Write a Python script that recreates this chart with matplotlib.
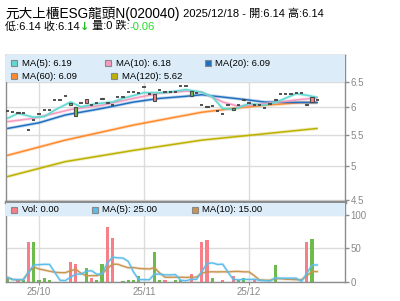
import matplotlib
matplotlib.use('Agg')
import matplotlib.pyplot as plt
import numpy as np
import pandas as pd
from matplotlib.patches import Rectangle
from matplotlib.lines import Line2D
from matplotlib.ticker import FixedLocator, NullLocator

FONTS = ['Liberation Sans', 'Noto Sans CJK TC', 'DejaVu Sans']
plt.rcParams['font.family'] = FONTS

# daily data, 60 trading days up to 2025/12/18
closes = [5.93, 5.91, 5.90, 5.89, 5.59, 5.77, 5.88, 5.96, 5.96, 6.14,
          6.14, 6.21, 6.05, 5.85, 6.09, 6.16, 6.04, 6.09, 6.17, 6.10,
          6.04, 6.19, 6.19, 6.29, 6.29, 6.27, 6.39, 6.26, 6.26, 6.33,
          6.29, 6.29, 6.29, 6.41, 6.41, 6.22, 6.27, 6.05, 6.00, 6.02,
          5.94, 5.88, 6.04, 5.96, 6.04, 6.16, 6.08, 6.04, 6.04, 5.98,
          6.06, 6.16, 6.25, 6.25, 6.25, 6.28, 6.28, 6.07, 6.20, 6.14]
opens = list(closes)
for i, o in {2: 5.92, 12: 6.08, 13: 6.00, 15: 6.09, 18: 6.15, 19: 6.08, 28: 6.12,
             35: 6.31, 38: 6.02, 43: 5.98, 45: 6.14, 51: 6.14, 57: 6.05, 58: 6.10}.items():
    opens[i] = o
volumes = [6, 0, 2, 3, 60, 60, 2, 5, 2, 0,
           0, 0, 30, 26, 0, 21, 5, 3, 27, 83,
           66, 0, 1, 2, 3, 8, 0, 0, 45, 3,
           2, 0, 2, 2, 0, 12, 0, 60, 63, 6,
           0, 2, 0, 8, 2, 5, 0, 2, 0, 0,
           0, 25, 0, 0, 0, 0, 0, 60, 65, 0]
vol_side = list("g-rgrgggg-" "--rr-grggr" "r-gggg--gg" "r-gg-r-rrg" "-r-rgg-r--" "-g-----rg-")

# price moving averages (day index, value)
ma5_x = [0, 2, 5, 7, 9, 12, 14, 17, 20, 22, 26, 30, 34, 37, 39, 41, 43, 46, 49, 51, 55, 57, 59]
ma5_y = [5.80, 5.89, 5.82, 5.83, 5.95, 6.10, 6.01, 6.07, 6.10, 6.17, 6.28, 6.28, 6.34, 6.29,
         6.20, 5.98, 5.96, 6.07, 6.04, 6.09, 6.26, 6.23, 6.19]
ma10_x = [0, 5, 9, 12, 18, 24, 29, 34, 37, 41, 44, 49, 56, 59]
ma10_y = [5.74, 5.80, 5.89, 5.96, 6.04, 6.17, 6.27, 6.31, 6.29, 6.10, 6.02, 6.07, 6.15, 6.18]
ma20_x = [0, 6, 11, 18, 24, 29, 34, 37, 45, 49, 59]
ma20_y = [5.62, 5.72, 5.86, 5.98, 6.10, 6.17, 6.21, 6.24, 6.15, 6.10, 6.09]
ma60_x = [0, 11, 24, 37, 43, 49, 56, 59]
ma60_y = [5.17, 5.42, 5.68, 5.91, 5.98, 6.04, 6.09, 6.09]
ma120_x = [0, 11, 24, 37, 59]
ma120_y = [4.84, 5.07, 5.25, 5.42, 5.62]

month_pos = [6, 26, 46]
month_labels = ['25/10', '25/11', '25/12']
price_ticks = [4.5, 5, 5.5, 6, 6.5]

RED, GREEN = '#f77f88', '#6cbb4c'
C_MA5, C_MA10, C_MA20, C_MA60, C_MA120 = '#5fd9d2', '#f59ac0', '#2070c0', '#ff8a2c', '#bdb200'
C_VMA5, C_VMA10 = '#5cbdea', '#c99450'
AXC, GRID = '#8c8c8c', '#dcdcdc'

W, H = 400, 301
fig = plt.figure(figsize=(W / 100, H / 100), dpi=100)
ax = fig.add_axes([6 / W, 1 - 201.5 / H, 339 / W, 147 / H])
axv = fig.add_axes([6 / W, 1 - 281.5 / H, 339 / W, 80 / H], sharex=ax)

days = np.arange(len(closes))

# price panel
for x, y, c in [(ma120_x, ma120_y, C_MA120), (ma60_x, ma60_y, C_MA60), (ma20_x, ma20_y, C_MA20),
                (ma10_x, ma10_y, C_MA10), (ma5_x, ma5_y, C_MA5)]:
    ax.plot(x, y, color=c, lw=2.4, alpha=0.25, zorder=2, solid_capstyle='butt')
    ax.plot(x, y, color=c, lw=1.1, zorder=2)
for d, o, c in zip(days, opens, closes):
    if o == c:
        ax.plot([d - 0.3, d + 0.3], [c, c], color='#444444', lw=1.3, zorder=3, solid_capstyle='butt')
    else:
        fc = RED if c > o else GREEN
        ax.add_patch(Rectangle((d - 0.3, min(o, c)), 0.6, abs(c - o), fc=fc, ec='#4a4a4a', lw=0.8, zorder=3))

ax.set_yscale('log')
ax.set_ylim(4.48, 7.07)
ax.yaxis.set_major_locator(FixedLocator(price_ticks))
ax.yaxis.set_minor_locator(NullLocator())
ax.set_yticklabels([f'{t:g}' for t in price_ticks])
ax.set_xlim(-0.3, 64.3)
ax.grid(True, color=GRID, lw=1, zorder=0)
ax.tick_params(axis='x', length=0, labelbottom=False)

# volume panel
vol_ma5 = pd.Series(volumes).rolling(5, min_periods=1).mean()
vol_ma10 = pd.Series(volumes).rolling(10, min_periods=1).mean()
axv.bar(days, volumes, width=0.6, color=[RED if s == 'r' else GREEN for s in vol_side], zorder=2)
for s, c in [(vol_ma10, C_VMA10), (vol_ma5, C_VMA5)]:
    axv.plot(days, s, color=c, lw=2.2, alpha=0.22, zorder=3)
    axv.plot(days, s, color=c, lw=1.0, zorder=3)
axv.set_ylim(0, 121)
axv.set_yticks([0, 50, 100])
axv.set_xticks(month_pos)
axv.set_xticklabels(month_labels)
axv.grid(True, color=GRID, lw=1, zorder=0)

for a in (ax, axv):
    a.set_axisbelow(True)
    a.yaxis.tick_right()
    a.tick_params(axis='y', direction='out', length=3, width=1, color=AXC, labelcolor='#888888',
                  labelsize=7, pad=1)
    for sp in a.spines.values():
        sp.set_color(AXC)
        sp.set_linewidth(1)
ax.spines['bottom'].set_visible(False)
axv.spines['top'].set_linewidth(2.5)
axv.tick_params(axis='x', length=2, color=AXC, labelcolor='#888888', labelsize=7, pad=2)

# legend bands
ax.add_patch(Rectangle((0, 0.814), 1, 0.186, transform=ax.transAxes, fc='#dcedf9', ec='none', zorder=5))
axv.add_patch(Rectangle((0, 0.822), 1, 0.16, transform=axv.transAxes, fc='#dcedf9', ec='none', zorder=5))


def legend_entry(xs, xt, y, color, label):
    fig.add_artist(Line2D([xs / W], [1 - y / H], marker='s', ms=4.8, mfc=color, mec='#888888', mew=0.8,
                          transform=fig.transFigure, zorder=6))
    fig.text(xt / W, 1 - y / H, label, fontsize=6.8, va='center', ha='left', color='black', zorder=6)


legend_entry(13.5, 22, 63, C_MA5, 'MA(5): 6.19')
legend_entry(107.5, 115.5, 63, C_MA10, 'MA(10): 6.18')
legend_entry(207.5, 215.5, 63, C_MA20, 'MA(20): 6.09')
legend_entry(13.5, 22, 76.5, C_MA60, 'MA(60): 6.09')
legend_entry(113.5, 122, 76.5, C_MA120, 'MA(120): 5.62')
legend_entry(14, 22, 209.5, RED, 'Vol: 0.00')
legend_entry(94.5, 102, 209.5, C_VMA5, 'MA(5): 25.00')
legend_entry(194.5, 202, 209.5, C_VMA10, 'MA(10): 15.00')

# header text
renderer = fig.canvas.get_renderer()


def chain(parts, x, y):
    for s, c, size, fam, wt in parts:
        t = fig.text(x / W, 1 - y / H, s, color=c, fontsize=size, family=fam, fontweight=wt,
                     va='center', ha='left')
        x += t.get_window_extent(renderer).width


chain([('元大上櫃ESG龍頭N(020040)', 'black', 9.8, FONTS, 'normal'),
       (' 2025/12/18 - 開:6.14 高:6.14', 'black', 8, FONTS, 'normal')], 5, 14)
chain([('低:6.14 收:6.14', 'black', 8, FONTS, 'normal'), ('↓', '#22bb22', 8, ['DejaVu Sans'], 'bold'),
       (' 量:0 跌:', 'black', 8, FONTS, 'normal'), ('-0.06', '#22dd22', 8, FONTS, 'normal')], 5, 26.5)

fig.savefig('out.png', dpi=100)
